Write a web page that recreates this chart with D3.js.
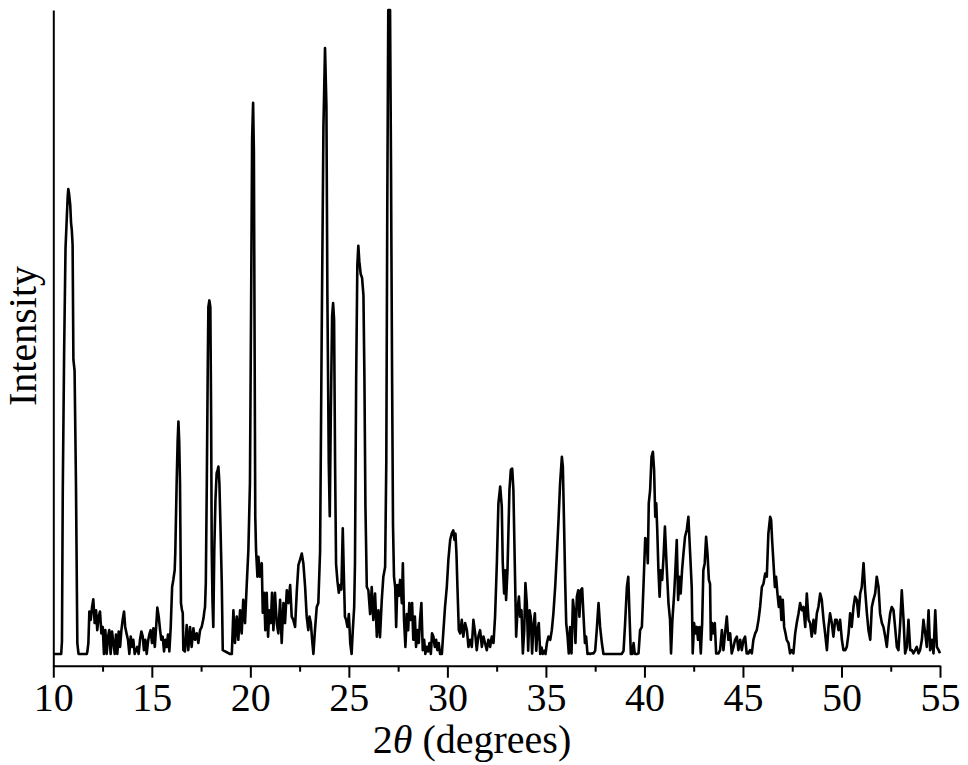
<!DOCTYPE html>
<html><head><meta charset="utf-8">
<script src="https://cdn.jsdelivr.net/npm/d3@7"></script>
<style>html,body{margin:0;padding:0;background:#fff}</style>
</head><body>
<svg id="chart" width="968" height="765"></svg>
<script>
// [2θ (deg), intensity (arb. units, 0..100)]
const pattern = [
[10.00,0],[10.40,0],[10.44,2],[10.48,25],[10.55,47],[10.62,63],[10.68,67.4],[10.73,71],[10.76,72.2],[10.80,71.5],[10.86,69.7],[10.90,67],[10.94,65.8],[10.98,63.5],[11.02,45.7],[11.08,44],[11.15,26.6],[11.22,1.7],[11.28,0],[11.70,0],
[11.73,0.4],[11.78,1.7],[11.83,6.6],[11.90,5.3],[11.96,7.1],[12.03,8.5],[12.10,4.8],[12.17,6.8],[12.23,3.7],[12.30,5.8],[12.37,6.6],[12.44,3.2],[12.51,4.2],[12.57,0],[12.64,3.7],[12.71,0],[12.78,2.7],[12.84,3.7],[12.91,0],[12.98,3.5],[13.05,1.7],[13.12,0],[13.18,3.0],[13.25,0],[13.32,3.5],[13.39,1.1],[13.45,3.5],[13.52,5.3],[13.59,6.6],[13.65,4.2],[13.73,3.0],[13.79,2.2],[13.86,0],[13.93,2.7],[14.00,1.1],[14.06,2.2],[14.13,0],[14.20,0.6],[14.26,1.1],[14.33,0],[14.40,2.2],[14.47,3.5],[14.54,2.7],[14.60,0.6],[14.67,2.2],[14.74,0],[14.81,2.0],[14.87,3.0],[14.94,3.7],[15.01,1.7],[15.08,4.0],[15.15,1.1],[15.21,3.7],[15.28,7.2],[15.35,5.8],[15.42,3.7],[15.48,2.2],[15.55,2.7],[15.62,0.4],[15.69,2.2],[15.76,1.1],[15.82,3.0],[15.89,0.4],[15.96,4.2],[16.03,10.4],[16.09,11.5],[16.16,13.0],[16.19,15.6],
[16.26,26.6],[16.31,33],[16.35,36.1],[16.39,33],[16.43,26.6],[16.48,7.9],[16.53,6.8],[16.57,6.4],[16.60,0.6],
[16.68,0.4],[16.77,4.5],[16.85,0.6],[16.94,4.2],[17.02,1.1],[17.11,4.0],[17.19,2.2],[17.28,3.2],[17.36,1.7],[17.45,3.7],[17.53,4.2],[17.62,5.5],[17.66,6.5],[17.70,7.3],[17.74,11.0],[17.79,26.5],[17.84,45],[17.87,53.9],[17.92,54.9],[17.97,53.9],[18.01,36.9],[18.04,16.1],[18.08,8],[18.12,4.2],[18.17,16.1],[18.23,24],[18.29,28.1],[18.34,28.6],[18.38,29.1],[18.43,26.5],[18.48,20.3],[18.55,11.0],[18.60,0.6],[18.97,0],
[19.06,0],[19.14,6.8],[19.22,1.7],[19.31,5.8],[19.39,2.2],[19.48,6.8],[19.56,3.2],[19.64,8.4],[19.73,4.8],[19.82,11.0],[19.90,16.1],[19.98,26.5],[20.04,55],[20.09,80],[20.14,85.6],[20.18,78],[20.22,45],[20.25,21.3],[20.29,16.1],[20.36,12.0],[20.41,15.1],[20.49,12.0],[20.58,14.1],[20.63,6.4],[20.70,9.5],[20.76,3.7],[20.83,9.5],[20.90,2.7],[20.96,6.8],[21.04,4.8],[21.10,9.5],[21.17,3.7],[21.25,9.5],[21.34,4.8],[21.42,3.2],[21.51,8.4],[21.59,1.7],[21.68,7.9],[21.76,4.8],[21.85,9.9],[21.93,7.9],[22.02,10.7],[22.10,5.8],[22.18,5.3],[22.27,4.2],[22.36,9.9],[22.44,13.8],[22.52,14.6],[22.61,15.6],[22.69,14.1],[22.78,10.4],[22.86,5.8],[22.94,3.7],[23.00,5.8],[23.07,4.8],[23.15,1.7],[23.20,0],[23.28,3.7],[23.37,7.3],[23.45,7.9],[23.54,16.0],
[23.62,49.2],[23.71,82.0],[23.79,94.1],[23.86,85.2],[23.91,55.7],[23.98,29.7],[24.03,21.4],[24.08,36.2],[24.15,52.5],[24.20,54.5],[24.25,51.9],[24.30,29.7],[24.35,14.0],[24.42,11.3],[24.49,9.5],[24.55,10.7],[24.62,10.0],[24.69,19.5],[24.74,13.0],[24.80,5.8],[24.86,5.3],[24.93,4.2],[25.00,6.2],[25.07,1.7],[25.14,0],[25.20,3.7],[25.27,7.3],[25.31,14],[25.37,42.7],[25.43,60.4],[25.48,63.4],[25.53,61.0],[25.60,59.0],[25.67,58.4],[25.74,55.7],[25.79,42.7],[25.84,23.1],[25.91,10.4],[25.99,9.9],[26.08,6.2],[26.16,10.4],[26.24,5.3],[26.33,9.4],[26.42,2.7],[26.50,6.8],[26.58,2.6],[26.67,8.4],[26.75,12.0],[26.84,13.5],[26.90,30],[26.95,70],[27.00,100],[27.09,100],[27.14,75],[27.19,45],[27.24,20],[27.29,12],[27.35,10.4],
[27.40,4.2],[27.46,10.7],[27.53,9.0],[27.60,11.5],[27.69,7.9],[27.74,14.1],[27.80,5.3],[27.87,1.1],[27.94,6.2],[28.01,3.7],[28.07,7.9],[28.14,5.3],[28.21,7.9],[28.27,2.2],[28.35,5.8],[28.41,1.1],[28.48,3.7],[28.55,1.7],[28.61,5.3],[28.68,7.9],[28.75,0.6],[28.82,2.2],[28.88,0],[28.95,1.1],[29.02,0.4],[29.09,1.7],[29.16,0],[29.22,3.2],[29.29,2.7],[29.36,1.1],[29.43,2.2],[29.49,0.6],[29.56,1.7],[29.63,0],[29.72,0],[29.80,3.7],[29.88,7.3],[29.97,10.4],[30.05,14.6],[30.14,17.7],[30.22,18.7],[30.30,19.2],[30.36,17.7],[30.41,18.7],[30.46,15.6],[30.51,10.4],[30.58,3.7],[30.65,3.2],[30.73,5.3],[30.81,2.7],[30.90,4.8],[30.99,3.7],[31.07,1.1],[31.15,2.2],[31.24,1.1],[31.32,5.3],[31.41,3.2],[31.49,0.6],[31.57,2.7],[31.66,3.7],[31.75,1.1],[31.83,2.7],[31.91,1.7],[32.00,0.6],[32.08,2.2],[32.17,1.1],
[32.25,2.7],[32.34,1.7],[32.42,5.8],[32.51,14.1],[32.59,23.4],[32.68,26.0],[32.76,22.9],[32.81,14.1],[32.88,9.4],[32.93,13.0],[32.98,8.4],[33.05,13.0],[33.10,19.3],[33.15,25.5],[33.22,28.6],[33.29,28.8],[33.35,25.5],[33.42,14.1],[33.49,2.7],[33.56,6.8],[33.63,8.9],[33.69,5.8],[33.76,6.8],[33.83,0.1],[33.90,3.7],[33.96,11.0],[34.03,7.9],[34.10,0.5],[34.17,6.8],[34.23,5.8],[34.30,0.1],[34.37,4.5],[34.44,6.3],[34.51,0.5],[34.57,3.7],[34.64,4.8],[34.71,0],[34.78,1.0],[34.84,0],[34.91,0.5],[34.98,0],[35.05,1.7],[35.13,2.7],[35.22,2.2],[35.30,3.7],[35.38,6.3],[35.47,10.4],[35.55,15.1],[35.64,20.8],[35.72,26.5],[35.81,30.6],[35.86,29.1],[35.91,21.8],[35.98,11.0],[36.03,4.8],[36.10,2.7],[36.16,0.1],[36.23,4.2],[36.30,0.1],[36.37,8.4],[36.43,6.8],[36.50,1.7],[36.57,8.9],[36.64,9.9],[36.70,5.8],[36.77,9.9],[36.84,10.2],[36.91,5.8],[36.98,1.7],[37.04,2.7],[37.11,0],[37.18,0.1],[37.25,0],[37.33,0.1],[37.42,0.1],[37.50,0.5],[37.58,3.7],[37.67,7.9],[37.75,4.2],[37.84,1.7],[37.92,0],[38.85,0],[38.94,0.5],[39.02,4.8],[39.11,10.4],[39.18,12.0],[39.24,6.3],[39.31,0],[39.38,0],[39.45,1.7],[39.51,0],[39.62,0],[39.70,0.1],[39.78,3.7],[39.87,4.2],[39.95,10.4],[40.04,18.0],[40.12,17.7],[40.17,14.1],[40.22,23.4],[40.29,25.5],[40.36,30.6],[40.43,31.4],[40.49,28.6],[40.55,21.3],[40.60,23.4],[40.65,19.3],[40.71,13.0],[40.77,8.9],[40.83,13.0],[40.90,11.5],[40.97,15.1],[41.04,19.8],
[41.13,13.5],[41.22,7.9],[41.30,5.3],[41.35,0.1],[41.42,5.3],[41.51,9.4],[41.57,13.0],[41.64,17.7],[41.71,8.4],[41.78,12.0],[41.84,9.4],[41.91,13.0],[41.98,15.6],[42.06,18.2],[42.15,19.3],[42.23,21.3],[42.32,15.6],[42.40,10.4],[42.45,0.1],[42.52,4.8],[42.59,3.2],[42.66,4.2],[42.72,2.2],[42.79,4.2],[42.86,0.1],[42.93,4.8],[42.99,13.0],[43.06,14.1],[43.13,18.2],[43.20,15.6],[43.27,11.5],[43.33,10.9],[43.37,2.2],[43.43,4.8],[43.50,3.2],[43.57,4.8],[43.64,0.1],[43.76,0.1],[43.84,0.6],[43.93,3.7],[44.01,0.6],[44.09,3.2],[44.18,5.8],[44.26,2.2],[44.35,3.2],[44.43,0.1],[44.52,1.1],[44.60,2.2],[44.69,2.7],[44.77,0.6],[44.86,2.2],[44.94,0.6],[45.03,2.2],[45.11,2.7],[45.19,0.1],[45.28,0.1],[45.36,0.6],[45.45,0.1],[45.53,2.2],[45.62,3.2],[45.70,3.7],[45.79,5.3],[45.87,7.3],[45.96,10.4],[46.04,10.9],[46.13,12.5],[46.21,12.0],[46.29,18.7],[46.38,21.3],[46.43,20.8],[46.48,17.7],[46.55,14.1],[46.62,10.4],[46.68,12.0],[46.75,9.4],[46.82,7.3],[46.89,8.9],[46.95,5.3],[47.02,8.4],[47.09,4.2],[47.16,3.2],[47.22,2.2],[47.31,1.7],[47.39,0.1],[47.48,0.6],[47.56,0.1],[47.65,3.2],[47.73,4.8],[47.82,6.3],[47.90,7.9],[47.99,6.8],[48.07,7.3],[48.16,4.2],[48.24,9.4],[48.33,5.3],[48.41,4.8],[48.49,2.7],[48.58,5.3],[48.66,3.2],[48.75,6.3],[48.83,7.3],[48.92,9.4],[49.00,8.4],[49.09,5.3],[49.17,3.2],[49.26,0.6],[49.34,4.2],[49.42,6.3],[49.51,4.8],[49.59,2.7],[49.68,5.3],[49.76,5.3],[49.85,3.7],[49.93,5.3],[50.02,2.2],[50.10,0.6],[50.19,0.6],[50.27,1.1],[50.36,3.2],[50.44,6.3],[50.52,4.2],[50.61,7.3],[50.69,8.9],[50.78,8.4],[50.86,5.8],[50.95,9.4],[51.03,10.4],[51.12,14.1],[51.20,9.9],[51.29,6.3],[51.37,3.7],[51.46,2.2],[51.54,7.3],[51.62,8.4],[51.71,9.4],[51.79,12.0],[51.88,10.4],[51.96,6.3],[52.05,4.8],[52.13,4.2],[52.22,2.7],[52.30,1.1],[52.39,4.2],[52.47,6.3],[52.55,7.3],[52.64,6.8],[52.72,4.2],[52.81,1.1],[52.89,0.6],[52.98,4.8],[53.06,9.9],[53.15,5.3],[53.23,0.1],[53.32,1.1],[53.40,5.3],[53.49,0.6],[53.57,0.6],[53.65,0.1],[53.74,0.6],[53.82,1.1],[53.91,0.1],[53.99,0.6],[54.08,2.2],[54.16,5.3],[54.25,3.2],[54.33,1.1],[54.42,6.8],[54.50,0.6],[54.59,2.2],[54.67,0.1],[54.76,6.8],[54.84,1.1],[54.93,0.6],[55.00,0.1]
];
const xTicks = [10, 15, 20, 25, 30, 35, 40, 45, 50, 55];
const xMinorTicks = [12.5, 17.5, 22.5, 27.5, 32.5, 37.5, 42.5, 47.5, 52.5];
const yLabelText = "Intensity";
const xLabelParts = ["2", "θ", " (degrees)"];

const FONT = "'Liberation Serif','DejaVu Serif','Times New Roman',serif";
const svg = d3.select("#chart");

const x = d3.scaleLinear().domain([10, 55]).range([53.3, 940]);
const y = d3.scaleLinear().domain([-1.82, 100]).range([665.7, 10]);
const axisY = 665.7;

// minor ticks
svg.append("g")
  .attr("transform", `translate(0,${axisY})`)
  .call(d3.axisBottom(x).tickValues(xMinorTicks).tickSize(6).tickSizeOuter(0).tickFormat(""))
  .call(g => g.select(".domain").remove())
  .call(g => g.selectAll("line").attr("stroke", "#000").attr("stroke-width", 2));

// major axis
const gx = svg.append("g")
  .attr("transform", `translate(0,${axisY})`)
  .call(d3.axisBottom(x).tickValues(xTicks).tickSize(12).tickSizeOuter(0).tickPadding(5).tickFormat(d3.format("d")));
gx.select(".domain").attr("stroke", "#000").attr("stroke-width", 2);
gx.selectAll("line").attr("stroke", "#000").attr("stroke-width", 2);
gx.selectAll("text").attr("font-family", FONT).attr("font-size", 40).attr("fill", "#000");

// y axis line (no ticks)
const gy = svg.append("g")
  .attr("transform", `translate(${x(10)},0)`)
  .call(d3.axisLeft(y).tickValues([]).tickSizeOuter(0));
gy.select(".domain").attr("stroke", "#000").attr("stroke-width", 2);

// data line
const line = d3.line().x(d => x(d[0])).y(d => y(d[1]));
svg.append("path")
  .datum(pattern)
  .attr("d", line)
  .attr("fill", "none")
  .attr("stroke", "#000")
  .attr("stroke-width", 2.6)
  .attr("stroke-linejoin", "round");

// x label
const xl = svg.append("text")
  .attr("x", 472).attr("y", 753)
  .attr("text-anchor", "middle")
  .attr("font-family", FONT).attr("font-size", 40).attr("fill", "#000");
xl.selectAll("tspan").data(xLabelParts).join("tspan")
  .attr("font-style", (d, i) => i === 1 ? "italic" : "normal")
  .text(d => d);

// y label
svg.append("text")
  .attr("transform", "translate(36,336) rotate(-90)")
  .attr("text-anchor", "middle")
  .attr("font-family", FONT).attr("font-size", 40).attr("fill", "#000")
  .text(yLabelText);
</script>
</body></html>
